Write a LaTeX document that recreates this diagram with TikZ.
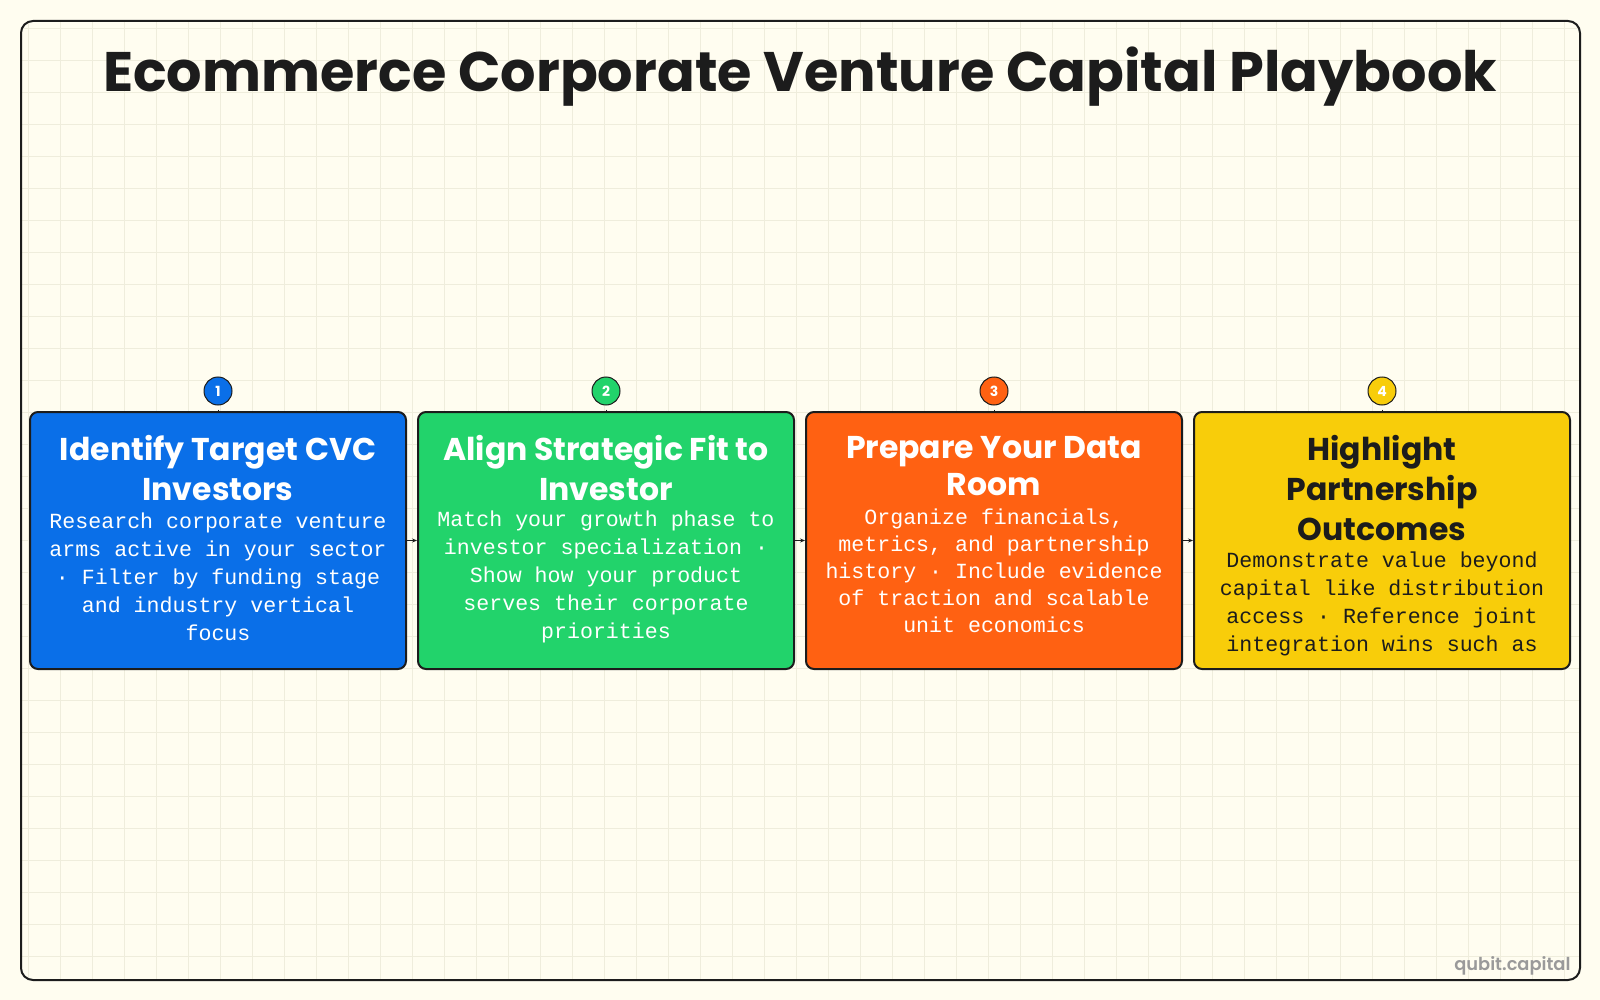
\documentclass[tikz,border=0pt]{standalone}
\usepackage{fontspec}
\setmainfont{Poppins}
\newfontfamily\headfont{Poppins SemiBold}
\newfontfamily\bodyfont{Liberation Mono}
\usetikzlibrary{arrows.meta}
\definecolor{bg}{HTML}{FFFDF0}
\definecolor{gridc}{HTML}{EFEDDC}
\definecolor{ink}{HTML}{1C1C1C}
\definecolor{cblue}{HTML}{0A6FE8}
\definecolor{cgreen}{HTML}{22D36B}
\definecolor{corange}{HTML}{FF6112}
\definecolor{cyellow}{HTML}{F8CD0A}
\definecolor{wm}{HTML}{9A9A9A}
\begin{document}
\begin{tikzpicture}[x=1pt,y=-1pt,
  stepcard/.style={draw=ink, line width=2pt, rounded corners=8pt, minimum width=376pt, minimum height=257pt, inner sep=0pt},
  cardtitle/.style={align=center, inner sep=0pt, font=\bfseries\fontsize{31.5}{40}\selectfont},
  cardbody/.style={align=center, inner sep=0pt, font=\bodyfont\fontsize{21.6}{28}\selectfont},
  badge/.style={circle, draw=ink, line width=1pt, minimum size=28pt, inner sep=0pt, text=white, font=\bfseries\fontsize{14}{14}\selectfont},
  link/.style={draw=ink, line width=1pt, -{Stealth[length=5pt,width=4pt]}},
  stem/.style={draw=ink, line width=1pt}
]
\useasboundingbox (0,0) rectangle (1600,1000);
\fill[bg] (0,0) rectangle (1600,1000);
\begin{scope}
  \clip[rounded corners=12pt] (21,21) rectangle (1580,980);
  \foreach \x in {28,60,...,1564} \draw[gridc, line width=0.8pt] (\x,21) -- (\x,980);
  \foreach \y in {28,60,...,956} \draw[gridc, line width=0.8pt] (21,\y) -- (1580,\y);
\end{scope}
\draw[ink, line width=2pt, rounded corners=12pt] (21,21) rectangle (1580,980);

\node[text=ink, font=\bfseries\fontsize{55.7}{55.7}\selectfont] (title) at (800,77) {Ecommerce Corporate Venture Capital Playbook};

% cards
\node[stepcard, fill=cblue] (b1) at (218,540.5) {};
\node[stepcard, fill=cgreen] (b2) at (606,540.5) {};
\node[stepcard, fill=corange] (b3) at (994,540.5) {};
\node[stepcard, fill=cyellow] (b4) at (1382,540.5) {};

\node[cardtitle, text=white] (t1) at (218,468) {Identify Target CVC\\Investors};
\node[cardbody, text=white] (d1) at (218,576.5) {Research corporate venture\\arms active in your sector\\· Filter by funding stage\\and industry vertical\\focus};

\node[cardtitle, text=white] (t2) at (606,468) {Align Strategic Fit to\\Investor};
\node[cardbody, text=white] (d2) at (606,576.5) {Match your growth phase to\\investor specialization ·\\Show how your product\\serves their corporate\\priorities};

\node[cardtitle, text=white, font=\bfseries\fontsize{31.5}{37}\selectfont] (t3) at (994,466.5) {Prepare Your Data\\Room};
\node[cardbody, text=white, font=\bodyfont\fontsize{21.6}{27}\selectfont] (d3) at (994,571) {Organize financials,\\metrics, and partnership\\history · Include evidence\\of traction and scalable\\unit economics};

\node[cardtitle, text=ink] (t4) at (1382,488) {Highlight\\Partnership\\Outcomes};
\node[cardbody, text=ink] (d4) at (1382,604) {Demonstrate value beyond\\capital like distribution\\access · Reference joint\\integration wins such as};

% badges
\node[badge, fill=cblue] (c1) at (218,391) {1};
\node[badge, fill=cgreen] (c2) at (606,391) {2};
\node[badge, fill=corange] (c3) at (994,391) {3};
\node[badge, fill=cyellow] (c4) at (1382,391) {4};

\foreach \i in {1,2,3,4} \draw[stem] ([yshift=-4pt]c\i.south) -- (b\i.north);

\draw[link] (b1.east) -- (b2.west);
\draw[link] (b2.east) -- (b3.west);
\draw[link] (b3.east) -- (b4.west);

\node[text=wm, anchor=east, font=\headfont\fontsize{17.8}{17.8}\selectfont] (wmark) at (1574,966) {qubit.capital};
\end{tikzpicture}
\end{document}
